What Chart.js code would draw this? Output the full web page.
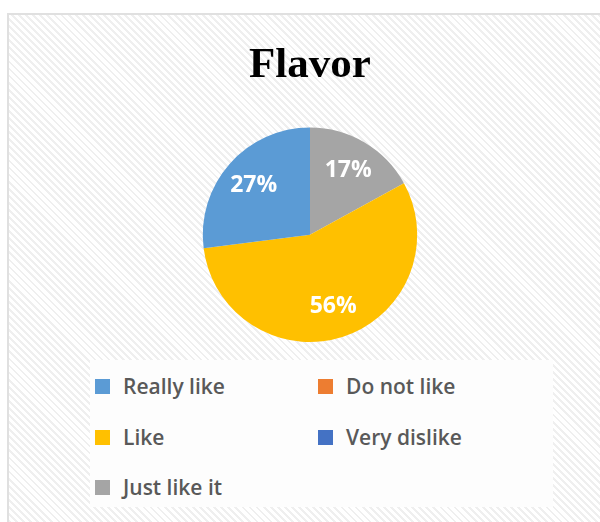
<!DOCTYPE html>
<html>
<head>
<meta charset="utf-8">
<script src="https://cdn.jsdelivr.net/npm/chart.js@4"></script>
<style>
  html, body { margin: 0; padding: 0; }
  body {
    width: 600px; height: 522px; position: relative; overflow: hidden;
    background: #fff;
  }
  #frame {
    position: absolute; left: 7px; top: 13px; width: 620px; height: 540px;
    border: 2px solid #e0e0e0;
    background: repeating-linear-gradient(45deg, #ffffff 0 3px, #efefef 3px 5px);
  }
  #chartBox { position: absolute; left: 0; top: 0; width: 600px; height: 522px; }
  #legend {
    position: absolute; left: 90px; top: 360px; width: 463px; height: 147px;
    background: #fdfdfd;
    font-family: "Open Sans", sans-serif; font-weight: 600; font-size: 21px; color: #595959;
  }
  .item { position: absolute; display: flex; align-items: center; height: 26px; }
  .item span.box { width: 15px; height: 15px; margin-right: 13px; }
</style>
</head>
<body>
<div id="frame"></div>
<div id="chartBox"><canvas id="flavorChart" width="600" height="522"></canvas></div>
<div id="legend"></div>
<script>
var categories = ['Really like', 'Do not like', 'Like', 'Very dislike', 'Just like it'];
var shares = [27, 0, 56, 0, 17];
var sliceColors = ['#5B9BD5', '#ED7D31', '#FFC000', '#4472C4', '#A5A5A5'];

// Excel draws this pie the other way round, so feed Chart.js the reversed order
var pieLabels = categories.slice().reverse();
var pieData = shares.slice().reverse();
var pieColors = sliceColors.slice().reverse();

var sliceLabels = {
    id: 'sliceLabels',
    afterDatasetsDraw: function (chart) {
        var ctx = chart.ctx;
        var meta = chart.getDatasetMeta(0);
        ctx.save();
        ctx.font = 'bold 23px "Open Sans", sans-serif';
        ctx.fillStyle = '#ffffff';
        ctx.textAlign = 'center';
        ctx.textBaseline = 'middle';
        meta.data.forEach(function (arc, i) {
            var v = pieData[i];
            if (!v) return;
            var p = arc.getProps(['x', 'y', 'startAngle', 'endAngle', 'outerRadius']);
            var mid = (p.startAngle + p.endAngle) / 2;
            var r = p.outerRadius * 0.7;
            ctx.fillText(v + '%', p.x + Math.cos(mid) * r, p.y + Math.sin(mid) * r);
        });
        ctx.restore();
    }
};

var ctx = document.getElementById('flavorChart').getContext('2d');
var flavorChart = new Chart(ctx, {
    type: 'pie',
    data: {
        labels: pieLabels,
        datasets: [{
            data: pieData,
            backgroundColor: pieColors,
            borderWidth: 0,
            hoverOffset: 0
        }]
    },
    options: {
        responsive: false,
        animation: false,
        layout: { padding: { left: 20, bottom: 180 } },
        plugins: {
            legend: { display: false },
            tooltip: { enabled: false },
            title: {
                display: true,
                text: 'Flavor',
                color: '#000000',
                font: { family: '"Liberation Serif", "Times New Roman", serif', size: 43, weight: 'bold' },
                padding: { top: 40, bottom: 36 }
            }
        }
    },
    plugins: [sliceLabels]
});

// legend laid out in two columns like the original
var legend = document.getElementById('legend');
var cols = [5, 228];
var rows = [13, 64, 114];
categories.forEach(function (name, i) {
    var el = document.createElement('div');
    el.className = 'item';
    el.style.left = cols[i % 2] + 'px';
    el.style.top = rows[Math.floor(i / 2)] + 'px';
    el.innerHTML = '<span class="box" style="background:' + sliceColors[i] + '"></span>' + name;
    legend.appendChild(el);
});
</script>
</body>
</html>
